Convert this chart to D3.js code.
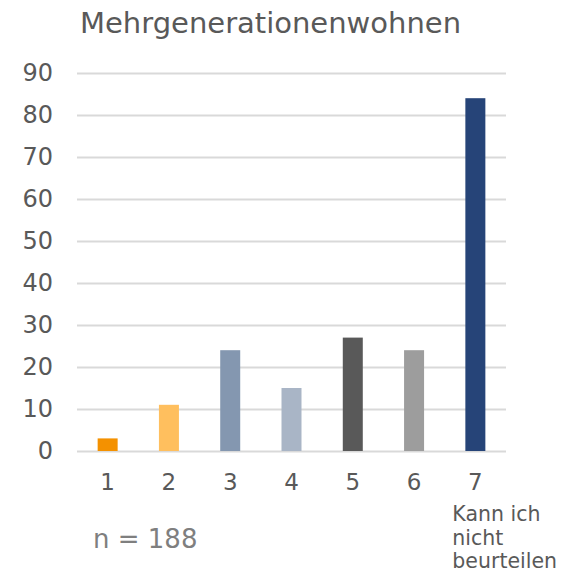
<!DOCTYPE html>
<html>
<head>
<meta charset="utf-8">
<script src="https://cdn.jsdelivr.net/npm/d3@7"></script>
<style>
  body { margin: 0; background: #fff; }
  text { font-family: "DejaVu Sans", Verdana, sans-serif; fill: #595959; }
</style>
</head>
<body>
<script>
const categories = ["1", "2", "3", "4", "5", "6", "7"];
const values = [3, 11, 24, 15, 27, 24, 84];
const colors = ["#F49100", "#FFBF5E", "#8497B0", "#A9B5C6", "#595959", "#9D9D9D", "#264478"];
const yTicks = [0, 10, 20, 30, 40, 50, 60, 70, 80, 90];
const title = "Mehrgenerationenwohnen";
const note = "n = 188";
const lastLabel = ["Kann ich", "nicht", "beurteilen"];

const width = 575;
const height = 573;
const plotLeft = 77, plotRight = 506, plotTop = 73, plotBottom = 451;

const svg = d3.select("body").append("svg").attr("width", width).attr("height", height);

const xScale = d3.scaleBand()
  .domain(categories)
  .range([plotLeft, plotRight]);

const yScale = d3.scaleLinear()
  .domain([0, 90])
  .range([plotBottom, plotTop]);

// Titel
svg.append("text")
  .attr("x", 80).attr("y", 33)
  .style("font-size", "29px")
  .text(title);

// Gitterlinien + y-Achse
const axisy = d3.axisLeft(yScale)
  .tickValues(yTicks)
  .tickSize(-(plotRight - plotLeft))
  .tickPadding(24);

const gy = svg.append("g")
  .attr("transform", "translate(" + plotLeft + ",0)")
  .call(axisy);
gy.select(".domain").remove();
gy.selectAll("line").attr("stroke", "#D9D9D9").attr("stroke-width", 1.8);
gy.selectAll("text").style("font-size", "24px").attr("fill", "#595959");

// x-Achse
const axisx = d3.axisBottom(xScale).tickSize(0).tickPadding(23);
const gx = svg.append("g")
  .attr("transform", "translate(0," + plotBottom + ")")
  .call(axisx);
gx.select(".domain").remove();
gx.selectAll("text").style("font-size", "23px").attr("fill", "#595959");

// Balken
const barWidth = 20;
svg.append("g").selectAll(".bar")
  .data(values)
  .enter()
  .append("rect")
  .attr("class", "bar")
  .attr("x", (d, i) => xScale(categories[i]) + (xScale.bandwidth() - barWidth) / 2)
  .attr("y", d => yScale(d))
  .attr("width", barWidth)
  .attr("height", d => yScale(0) - yScale(d))
  .style("fill", (d, i) => colors[i]);

// Zusatzbeschriftung für 7
const lx = xScale("7") + xScale.bandwidth() / 2 - 23;
svg.append("text")
  .attr("x", lx).attr("y", 521)
  .style("font-size", "20.5px")
  .selectAll("tspan")
  .data(lastLabel)
  .enter()
  .append("tspan")
  .attr("x", lx)
  .attr("dy", (d, i) => i === 0 ? 0 : 23.5)
  .text(d => d);

// n
svg.append("text")
  .attr("x", 93).attr("y", 548)
  .style("font-size", "26px")
  .style("fill", "#7F7F7F")
  .text(note);
</script>
</body>
</html>
